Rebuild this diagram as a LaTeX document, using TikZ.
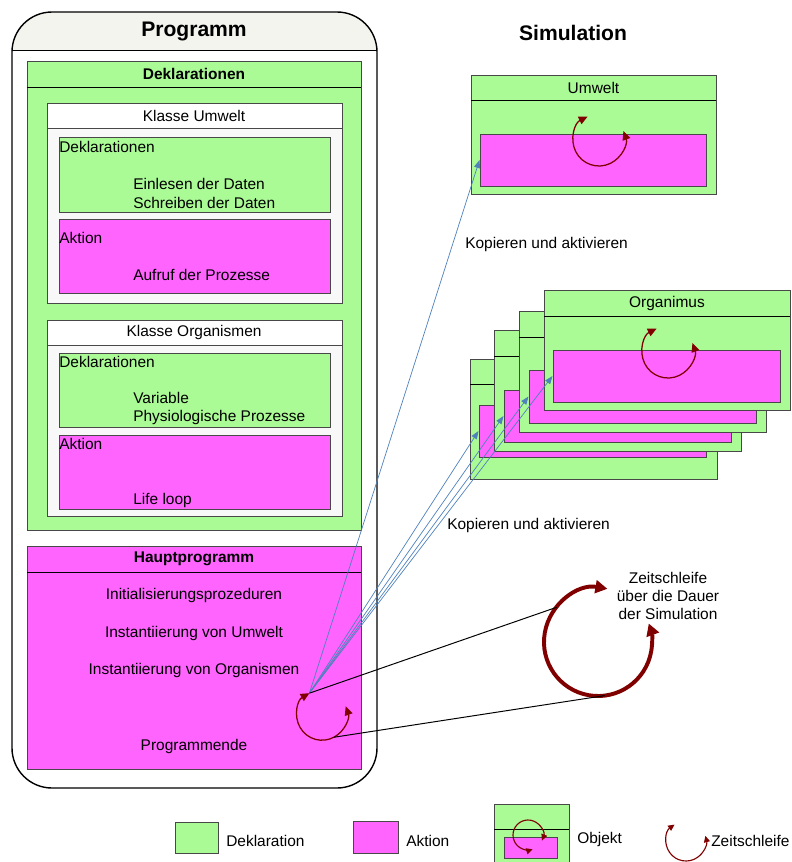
\documentclass[tikz,border=0pt]{standalone}
\usepackage{fontspec}
\setmainfont{Liberation Sans}
\usetikzlibrary{positioning,fit,arrows.meta}

\definecolor{declgreen}{RGB}{170,250,150}
\definecolor{aktpink}{RGB}{255,100,255}
\definecolor{loopred}{RGB}{128,0,0}
\definecolor{linkblue}{RGB}{79,129,189}
\definecolor{kopfgrau}{RGB}{244,244,238}
\definecolor{klassegrau}{RGB}{248,248,248}
\definecolor{randgrau}{RGB}{72,72,72}

\tikzset{
  box/.style={draw=randgrau, line width=0.7pt, inner sep=0pt},
  decl/.style={box, fill=declgreen},
  aktion/.style={box, fill=aktpink},
  klasse/.style={box, fill=klassegrau},
  kopfbox/.style={box, fill=white},
  txt/.style={inner sep=0pt, font=\fontsize{11}{13.5}\selectfont},
  kopf/.style={inner sep=0pt, font=\fontsize{11}{13.5}\selectfont\bfseries},
  titel/.style={inner sep=0pt, font=\fontsize{15}{18}\selectfont\bfseries},
  trenn/.style={draw=black, line width=0.7pt},
  zeit/.style={draw=loopred, line width=0.9pt,
    {Triangle[length=2.2mm,width=2mm]}-{Triangle[length=2.2mm,width=2mm]}},
  zeitklein/.style={draw=loopred, line width=0.8pt,
    {Triangle[length=1.6mm,width=1.5mm]}-{Triangle[length=1.6mm,width=1.5mm]}},
  zeitgross/.style={draw=loopred, line width=2.8pt,
    {Triangle[length=3mm,width=3.2mm]}-{Triangle[length=3mm,width=3.2mm]}},
  kopie/.style={draw=linkblue, line width=0.5pt, -{Triangle[length=2mm,width=1.5mm]}},
  lupe/.style={draw=black, line width=0.7pt},
}

\begin{document}
\begin{tikzpicture}[x=0.025cm, y=-0.025cm]
  \useasboundingbox (0,0) rectangle (791,862);

  % Programm
  \begin{scope}
    \clip[rounded corners=1cm] (12,12) rectangle (377,788);
    \fill[kopfgrau] (12,12) rectangle (377,50);
  \end{scope}
  \node[draw, line width=1pt, rounded corners=1cm, inner sep=0pt, fit={(12,12) (377,788)}] (prog) {};
  \draw[trenn] (12,50) -- (377,50);
  \node[titel] (progtitel) at (194,31) {Programm};

  \node[decl, fit={(27,61) (361,530)}] (dekl) {};
  \draw[trenn] (27,87) -- (361,87);
  \node[kopf] (dekltitel) at (194,74) {Deklarationen};

  % Klasse Umwelt
  \node[klasse, fit={(47,103) (342,303)}] (kumw) {};
  \node[kopfbox, fit={(47,103) (342,128)}] (kumwkopf) {};
  \node[txt] (kumwtxt) at (194,116) {Klasse Umwelt};
  \node[decl, fit={(59,137) (330,212)}] (udekl) {};
  \node[txt, anchor=west] (udekltxt) at (59,146.5) {Deklarationen};
  \node[txt, anchor=west, align=left] (udaten) at (133,193) {Einlesen der Daten\\Schreiben der Daten};
  \node[aktion, fit={(59,219) (330,293)}] (uakt) {};
  \node[txt, anchor=west] (uakttxt) at (59,238) {Aktion};
  \node[txt, anchor=west] (uprozess) at (133,275) {Aufruf der Prozesse};

  % Klasse Organismen
  \node[klasse, fit={(47,320) (342,516)}] (korg) {};
  \node[kopfbox, fit={(47,320) (342,345)}] (korgkopf) {};
  \node[txt] (korgtxt) at (194,332) {Klasse Organismen};
  \node[decl, fit={(59,353) (330,427)}] (odekl) {};
  \node[txt, anchor=west] (odekltxt) at (59,362) {Deklarationen};
  \node[txt, anchor=west, align=left] (ovar) at (133,408.5) {Variable\\Physiologische Prozesse};
  \node[aktion, fit={(59,435) (330,509)}] (oakt) {};
  \node[txt, anchor=west] (oakttxt) at (59,444) {Aktion};
  \node[txt, anchor=west] (olife) at (133,500) {Life loop};

  % Hauptprogramm
  \node[aktion, fit={(27,546) (361,769)}] (haupt) {};
  \draw[trenn] (27,572) -- (361,572);
  \node[kopf] (haupttitel) at (194,559) {Hauptprogramm};
  \node[txt] (init) at (194,595) {Initialisierungsprozeduren};
  \node[txt] (instumw) at (194,633) {Instantiierung von Umwelt};
  \node[txt] (instorg) at (194,670) {Instantiierung von Organismen};
  \node[txt] (ende) at (194,746) {Programmende};
  \coordinate (hloop) at (322,715);
  \draw[zeit] (hloop) ++(120:0.63cm) arc[start angle=120, end angle=380, radius=0.63cm];
  \coordinate (quelle) at ([shift={(120:0.63cm)}]hloop);
  \coordinate (hunten) at ([shift={(-62:0.63cm)}]hloop);

  % Simulation
  \node[titel] (simtitel) at (573,33) {Simulation};

  \node[decl, fit={(471,75) (716,194)}] (umwelt) {};
  \draw[trenn] (471,100) -- (716,100);
  \node[txt] (umwelttxt) at (593.5,88) {Umwelt};
  \node[aktion, fit={(480,134) (706,186)}] (umweltakt) {};
  \coordinate (uloop) at (599,140);
  \draw[zeit] (uloop) ++(116:0.65cm) arc[start angle=116, end angle=380, radius=0.65cm];
  \node[txt, anchor=west] (kopie1) at (465,244) {Kopieren und aktivieren};

  % Organismen (Stapel)
  \node[decl, fit={(470,359) (717,479)}] (org1) {};
  \draw[trenn] (470,384) -- (717,384);
  \node[aktion, fit={(479,405) (706,457)}] (org1akt) {};
  \node[decl, fit={(494,330) (741,451)}] (org2) {};
  \draw[trenn] (494,356) -- (741,356);
  \node[aktion, fit={(504,390) (731,442)}] (org2akt) {};
  \node[decl, fit={(519,311) (766,432)}] (org3) {};
  \draw[trenn] (519,337) -- (766,337);
  \node[aktion, fit={(529,370) (756,423)}] (org3akt) {};
  \node[decl, fit={(544,290) (790,410)}] (org4) {};
  \draw[trenn] (544,316) -- (790,316);
  \node[txt] (orgtxt) at (667,303) {Organimus};
  \node[aktion, fit={(553,350) (780,402)}] (org4akt) {};
  \coordinate (oloop) at (668,352);
  \draw[zeit] (oloop) ++(116:0.65cm) arc[start angle=116, end angle=380, radius=0.65cm];
  \node[txt, anchor=west] (kopie2) at (447,525) {Kopieren und aktivieren};

  % Kopieren
  \draw[kopie] (quelle) -- (umweltakt.west);
  \draw[kopie] (quelle) -- (org1akt.west);
  \draw[kopie] (quelle) -- (org2akt.west);
  \draw[kopie] (quelle) -- (org3akt.west);
  \draw[kopie] (quelle) -- (org4akt.west);

  % grosse Zeitschleife
  \coordinate (gloop) at (598,642);
  \draw[zeitgross] (gloop) ++(80:1.35cm) arc[start angle=80, end angle=380, radius=1.35cm];
  \coordinate (goben) at ([shift={(140:1.35cm)}]gloop);
  \coordinate (gunten) at ([shift={(-83:1.35cm)}]gloop);
  \draw[lupe] (quelle) -- (goben);
  \draw[lupe] (hunten) -- (gunten);
  \node[txt, align=center, font=\fontsize{11}{12.8}\selectfont] (zeittxt) at (668,596) {Zeitschleife\\über die Dauer\\der Simulation};

  % Legende
  \node[decl, fit={(175,822) (218,853)}] (legdekl) {};
  \node[txt, anchor=west] (legdekltxt) at (226,841) {Deklaration};
  \node[aktion, fit={(353,821) (398,853)}] (legakt) {};
  \node[txt, anchor=west] (legakttxt) at (406,841) {Aktion};
  \node[decl, fit={(494,804) (569,862)}] (legobj) {};
  \draw[trenn] (494,829) -- (569,829);
  \node[aktion, fit={(504,837) (557,858)}] (legobjakt) {};
  \coordinate (lobjloop) at (528,835);
  \draw[zeitklein] (lobjloop) ++(-22:0.375cm) arc[start angle=-22, end angle=288, radius=0.375cm];
  \node[txt, anchor=west] (legobjtxt) at (577,839) {Objekt};
  \coordinate (lloop) at (686,841);
  \draw[zeitklein] (lloop) ++(125:0.5cm) arc[start angle=125, end angle=375, radius=0.5cm];
  \node[txt, anchor=west] (legzeittxt) at (711,841) {Zeitschleife};
\end{tikzpicture}
\end{document}
